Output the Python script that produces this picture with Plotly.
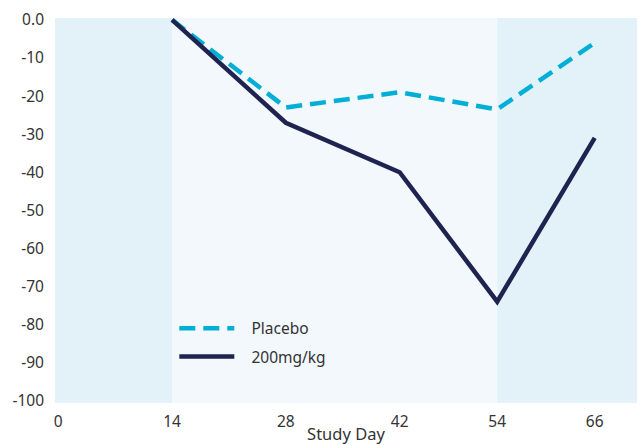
import plotly.graph_objects as go

days = [14, 28, 42, 54, 66]
placebo = [0, -23, -19, -23.5, -6]
dose200 = [0, -27, -40, -74, -31]
x_ticks = [0, 14, 28, 42, 54, 66]
y_ticks = [0, -10, -20, -30, -40, -50, -60, -70, -80, -90, -100]
y_ticktext = ["0.0"] + [str(v) for v in y_ticks[1:]]
series_names = ["Placebo", "200mg/kg"]
bands = [(None, 14, "#e3f2f8"), (14, 54, "#f2f8fc"), (54, None, "#e3f2f8")]

x_range = [-0.4, 71.2]
pad = "\u00a0\u00a0\u00a0"
fig = go.Figure()
fig.add_trace(go.Scatter(x=days, y=placebo, mode="lines", name=pad + series_names[0],
                         legendgroup="a",
                         line=dict(color="#00afd6", width=4.5, dash="16px,8px")))
fig.add_trace(go.Scatter(x=days, y=dose200, mode="lines", name=pad + series_names[1],
                         legendgroup="b",
                         line=dict(color="#1e2350", width=4.5)))

for x0, x1, c in bands:
    fig.add_shape(type="rect", xref="x", yref="paper",
                  x0=x_range[0] if x0 is None else x0,
                  x1=x_range[1] if x1 is None else x1,
                  y0=0, y1=1, fillcolor=c, line_width=0, layer="below")

font = "Noto Sans, Open Sans, sans-serif"
fig.update_layout(
    width=637, height=445,
    margin=dict(l=55, r=0, t=18, b=42),
    paper_bgcolor="white", plot_bgcolor="white",
    font=dict(family=font, size=15.5, color="#333333"),
    showlegend=True,
    legend=dict(x=0.205, y=0.237, xanchor="left", yanchor="top",
                bgcolor="rgba(0,0,0,0)", font=dict(size=15.5, color="#333333"),
                tracegroupgap=5, itemwidth=55),
    xaxis=dict(range=x_range, tickvals=x_ticks, showgrid=False, zeroline=False,
               showline=False, ticks="", ticklabelstandoff=7, automargin=False,
               title=dict(text="Study Day", font=dict(size=16.5), standoff=0)),
    yaxis=dict(range=[-100.6, 0.5], tickvals=y_ticks, ticktext=y_ticktext,
               showgrid=False, zeroline=False, showline=False, ticks="",
               ticklabelstandoff=10, automargin=False),
)
fig.write_html("out.html", config={"displayModeBar": False},
               post_script="document.body.style.margin='0';document.body.style.overflow='hidden';")
